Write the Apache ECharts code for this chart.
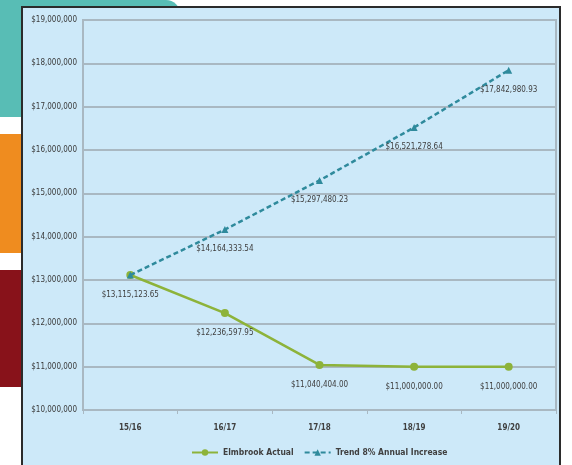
<!DOCTYPE html>
<html>
<head>
<meta charset="utf-8">
<script src="https://cdn.jsdelivr.net/npm/echarts@6/dist/echarts.min.js"></script>
<style>
  html, body { margin: 0; padding: 0; background: #fff; }
  #chart { width: 572px; height: 465px; }
</style>
</head>
<body>
<div id="chart"></div>
<script>
// years and values
var years = ['15/16', '16/17', '17/18', '18/19', '19/20'];
var actual = [13115123.65, 12236597.95, 11040404.00, 11000000.00, 11000000.00];
var trend = [13115123.65, 14164333.54, 15297480.23, 16521278.64, 17842980.93];
var seriesNames = ['Elmbrook Actual', 'Trend 8% Annual Increase'];

var font = "'Liberation Sans Narrow', 'DejaVu Sans Condensed', sans-serif";

function money(v) {
  return '$' + v.toLocaleString('en-US', { minimumFractionDigits: 2, maximumFractionDigits: 2 });
}

var chart = echarts.init(document.getElementById('chart'));
var option = {
  backgroundColor: '#fff',
  animation: false,
  graphic: [
    // slide decoration behind the chart
    { type: 'rect', z: -20, shape: { x: 0, y: 0, width: 180, height: 117, r: [0, 14, 0, 0] }, style: { fill: '#58bdb5' } },
    { type: 'rect', z: -20, shape: { x: 0, y: 134, width: 30, height: 119 }, style: { fill: '#ef8c1f' } },
    { type: 'rect', z: -20, shape: { x: 0, y: 270, width: 30, height: 117 }, style: { fill: '#88121a' } },
    { type: 'rect', z: -15, shape: { x: 22, y: 7, width: 538, height: 470 }, style: { fill: '#cde9f9', stroke: '#2b2b2b', lineWidth: 2 } }
  ],
  grid: {
    left: 83, right: 16, top: 20, bottom: 55,
    show: true, borderColor: '#a9b8c2', borderWidth: 2, backgroundColor: 'transparent'
  },
  legend: {
    bottom: 3,
    left: 186,
    itemWidth: 26,
    itemHeight: 8,
    itemGap: 10,
    data: seriesNames,
    textStyle: { fontFamily: font, fontSize: 8.5, color: '#404040', fontWeight: 'bold' }
  },
  xAxis: {
    type: 'category',
    data: years,
    boundaryGap: true,
    axisLine: { lineStyle: { color: '#a9b8c2', width: 2 } },
    axisTick: { show: true, length: 4, lineStyle: { color: '#a9b8c2' } },
    axisLabel: { fontFamily: font, fontSize: 8, fontWeight: 'bold', color: '#404040', margin: 14 }
  },
  yAxis: {
    type: 'value',
    min: 10000000,
    max: 19000000,
    interval: 1000000,
    axisLine: { show: true, lineStyle: { color: '#a9b8c2', width: 2 } },
    axisTick: { show: false },
    splitLine: { lineStyle: { color: '#a9b8c2', width: 2 } },
    axisLabel: {
      fontFamily: font, fontSize: 8, color: '#3a3a3a', margin: 6,
      formatter: function (v) { return '$' + v.toLocaleString('en-US'); }
    }
  },
  series: [
    {
      name: seriesNames[0],
      type: 'line',
      data: actual,
      z: 3,
      symbol: 'circle',
      symbolSize: 8,
      itemStyle: { color: '#8db33a' },
      lineStyle: { color: '#8db33a', width: 2.5 },
      label: {
        show: true, position: 'bottom', distance: 12,
        fontFamily: font, fontSize: 8, color: '#404040',
        formatter: function (p) { return money(p.value); }
      }
    },
    {
      name: seriesNames[1],
      type: 'line',
      data: trend,
      z: 4,
      symbol: 'triangle',
      symbolSize: 7,
      itemStyle: { color: '#2f8a9c' },
      lineStyle: { color: '#2f8a9c', width: 2.5, type: [5, 3] },
      label: {
        show: true, position: 'bottom', distance: 12,
        fontFamily: font, fontSize: 8, color: '#404040',
        formatter: function (p) { return p.dataIndex === 0 ? '' : money(p.value); }
      }
    }
  ]
};
chart.setOption(option);
</script>
</body>
</html>
